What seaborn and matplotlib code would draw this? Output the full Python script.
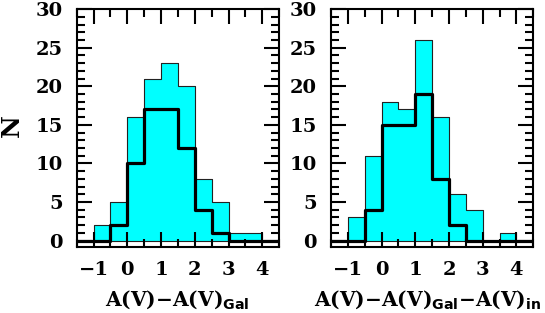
import matplotlib
matplotlib.use("Agg")
import matplotlib.pyplot as plt
from matplotlib.ticker import MultipleLocator
import pandas as pd
import seaborn as sns

# bins of width 0.5 from -1.5 to 4.5
bin_edges = [-1.5, -1.0, -0.5, 0.0, 0.5, 1.0, 1.5, 2.0, 2.5, 3.0, 3.5, 4.0, 4.5]

# left panel: A(V) - A(V)Gal
left_all = [0, 2, 5, 16, 21, 23, 20, 8, 5, 1, 1, 0]
left_sub = [0, 0, 2, 10, 17, 17, 12, 4, 1, 0, 0, 0]

# right panel: A(V) - A(V)Gal - A(V)in
right_all = [0, 3, 11, 18, 17, 26, 16, 6, 4, 0, 1, 0]
right_sub = [0, 0, 4, 15, 15, 19, 8, 2, 0, 0, 0, 0]

xlabels = [r"A(V)$-$A(V)$_{\mathsf{Gal}}$",
           r"A(V)$-$A(V)$_{\mathsf{Gal}}$$-$A(V)$_{\mathsf{in}}$"]

plt.rcParams["font.family"] = ["DejaVu Serif"]
plt.rcParams["font.weight"] = "bold"
plt.rcParams["axes.labelweight"] = "bold"
plt.rcParams["mathtext.fontset"] = "custom"
plt.rcParams["mathtext.rm"] = "DejaVu Serif:bold"
plt.rcParams["mathtext.sf"] = "DejaVu Sans:bold"

fig = plt.figure(figsize=(5.45, 3.13), dpi=100)
ax1 = fig.add_axes([0.1407, 0.2118, 0.3717, 0.7591])
ax2 = fig.add_axes([0.6073, 0.2118, 0.3713, 0.7591])

centers = [(a + b) / 2 for a, b in zip(bin_edges[:-1], bin_edges[1:])]

for ax, all_c, sub_c, xl, lx in [(ax1, left_all, left_sub, xlabels[0], 0.497),
                                 (ax2, right_all, right_sub, xlabels[1], 0.477)]:
    d_all = pd.DataFrame({"x": centers[1:-1], "n": all_c[1:-1]})
    d_sub = pd.DataFrame({"x": centers, "n": sub_c})
    # cyan histogram only spans -1..4
    sns.histplot(data=d_all, x="x", weights="n", bins=bin_edges[1:-1],
                 element="step", fill=True, color="cyan", alpha=1,
                 edgecolor="#222222", linewidth=0.8, ax=ax)
    sns.histplot(data=d_sub, x="x", weights="n", bins=bin_edges,
                 element="step", fill=False, color="black", linewidth=2.3, ax=ax)
    ax.set_xlim(-1.5, 4.5)
    ax.set_ylim(-0.8, 30)
    ax.xaxis.set_major_locator(MultipleLocator(1))
    ax.xaxis.set_minor_locator(MultipleLocator(0.5))
    ax.yaxis.set_major_locator(MultipleLocator(5))
    ax.yaxis.set_minor_locator(MultipleLocator(1))
    ax.tick_params(which="both", direction="in", top=True, right=True,
                   width=1.5, labelsize=14, pad=10)
    ax.tick_params(which="major", length=10.5)
    ax.tick_params(which="minor", length=5.5)
    for s in ax.spines.values():
        s.set_linewidth(1.5)
    ax.set_xlabel(xl, fontsize=14.5, fontweight="bold")
    ax.xaxis.set_label_coords(lx, -0.222)
    ax.xaxis.label.set_va("center")
    ax.set_ylabel("")

ax1.set_ylabel("N", fontsize=18, fontweight="bold")
ax1.yaxis.set_label_coords(-0.32, 0.51)
ax1.yaxis.label.set_va("center")

fig.savefig("out.png", dpi=100)
